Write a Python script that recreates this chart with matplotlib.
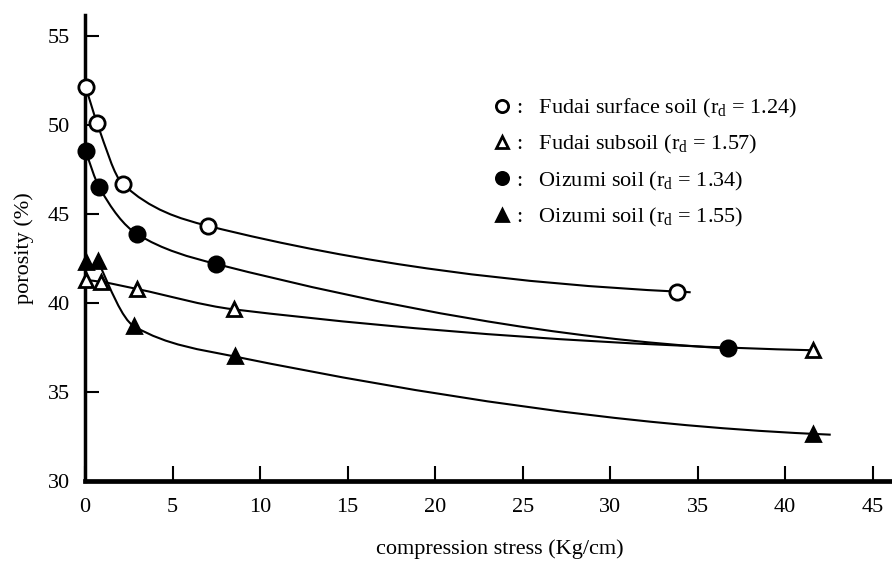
import numpy as np
import matplotlib
matplotlib.use("Agg")
import matplotlib.pyplot as plt
from matplotlib.path import Path
from matplotlib.patches import PathPatch

plt.rcParams['font.family'] = ['Liberation Serif', 'DejaVu Serif']
plt.rcParams['mathtext.fontset'] = 'custom'
plt.rcParams['mathtext.rm'] = 'Liberation Serif'

# values
fudai_surf_x = [0.05, 0.7, 2.15, 7.0, 33.8]
fudai_surf_y = [52.15, 50.1, 46.7, 44.35, 40.65]
fudai_sub_x = [0.05, 0.9, 2.95, 8.5, 41.6]
fudai_sub_y = [41.3, 41.2, 40.8, 39.65, 37.35]
oiz134_x = [0.05, 0.8, 2.95, 7.5, 36.75]
oiz134_y = [48.55, 46.55, 43.9, 42.2, 37.45]
oiz155_x = [0.05, 0.75, 2.8, 8.55, 41.6]
oiz155_y = [42.3, 42.35, 38.7, 37.0, 32.65]

labels = [r':   Fudai surface soil (r$_\mathrm{d}$ = 1.24)',
          r':   Fudai subsoil (r$_\mathrm{d}$ = 1.57)',
          r':   Oizumi soil (r$_\mathrm{d}$ = 1.34)',
          r':   Oizumi soil (r$_\mathrm{d}$ = 1.55)']

xticks = [0, 5, 10, 15, 20, 25, 30, 35, 40, 45]
yticks = [30, 35, 40, 45, 50, 55]


def end_slope(h0, h1, d0, d1):
    m = ((2 * h0 + h1) * d0 - h0 * d1) / (h0 + h1)
    if np.sign(m) != np.sign(d0):
        m = 0.35 * d0
    elif np.sign(d0) != np.sign(d1) and abs(m) > abs(3 * d0):
        m = 3 * d0
    return m


def smooth_path(x, y, tail=0.0, start=0):
    # monotone cubic through the points, drawn as bezier segments
    x = np.asarray(x, float)[start:]
    y = np.asarray(y, float)[start:]
    h = np.diff(x)
    d = np.diff(y) / h
    n = len(x)
    m = np.zeros(n)
    for i in range(1, n - 1):
        if d[i - 1] * d[i] <= 0:
            m[i] = 0
        else:
            w1 = 2 * h[i] + h[i - 1]
            w2 = h[i] + 2 * h[i - 1]
            m[i] = (w1 + w2) / (w1 / d[i - 1] + w2 / d[i])
    m[0] = end_slope(h[0], h[1], d[0], d[1])
    m[-1] = end_slope(h[-1], h[-2], d[-1], d[-2])
    verts = [(x[0], y[0])]
    codes = [Path.MOVETO]
    for i in range(n - 1):
        verts += [(x[i] + h[i] / 3, y[i] + m[i] * h[i] / 3),
                  (x[i + 1] - h[i] / 3, y[i + 1] - m[i + 1] * h[i] / 3),
                  (x[i + 1], y[i + 1])]
        codes += [Path.CURVE4] * 3
    if tail:
        verts.append((x[-1] + tail, y[-1] + m[-1] * tail))
        codes.append(Path.LINETO)
    return Path(verts, codes)


fig = plt.figure(figsize=(8.92, 5.61), dpi=100)
ax = fig.add_axes([85 / 892, 1 - 481 / 561, 1 - 85 / 892, 466 / 561])

series = [
    (fudai_surf_x, fudai_surf_y, 'o', 'white', 0.8, 0),
    (fudai_sub_x, fudai_sub_y, '^', 'white', 0.2, 0),
    (oiz134_x, oiz134_y, 'o', 'black', 0.0, 0),
    (oiz155_x, oiz155_y, '^', 'black', 1.0, 1),
]

handles = []
for (x, y, mk, fc, tail, start), lab in zip(series, labels):
    ax.add_patch(PathPatch(smooth_path(x, y, tail, start), fill=False,
                           edgecolor='black', lw=1.5, zorder=2))
    h, = ax.plot(x, y, ls='none', marker=mk, ms=11 if mk == 'o' else 10.5,
                 mfc=fc, mec='black', mew=2, zorder=3, clip_on=False,
                 label=lab)
    handles.append(h)

ax.set_xlim(0, 46.1)
ax.set_ylim(30, 56.2)
ax.set_xticks(xticks)
ax.set_yticks(yticks)
for s in ['top', 'right']:
    ax.spines[s].set_visible(False)
ax.spines['left'].set_linewidth(2.5)
ax.spines['bottom'].set_linewidth(3.4)
ax.tick_params(direction='in', width=1.5, labelsize=16)
ax.tick_params(axis='x', length=11, pad=12)
ax.tick_params(axis='y', length=10, pad=11)

ax.set_xlabel('compression stress (Kg/cm)', fontsize=16)
ax.xaxis.set_label_coords(0.514, -0.125)
ax.set_ylabel('porosity (%)', fontsize=16, labelpad=10)

leg = fig.legend(handles=handles, loc='upper left',
                 bbox_to_anchor=(472 / 892, 1 - 77 / 561), frameon=False,
                 fontsize=16, handlelength=0.9, handletextpad=0.2,
                 labelspacing=0.6, markerscale=0.8)

fig.savefig('out.png', dpi=100)
